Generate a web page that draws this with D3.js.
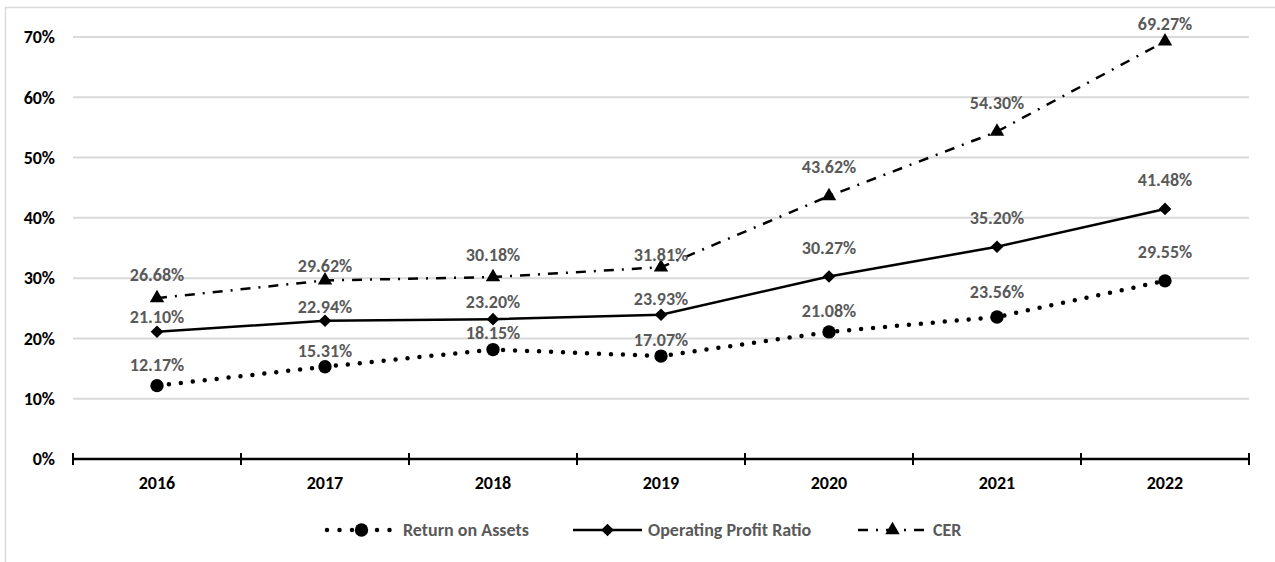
<!DOCTYPE html>
<html>
<head>
<meta charset="utf-8">
<script src="https://cdn.jsdelivr.net/npm/d3@7"></script>
<style>
  html, body { margin: 0; padding: 0; background: #fff; }
  svg { display: block; font-family: Carlito, Lato, "Open Sans", sans-serif; }
</style>
</head>
<body>
<svg id="chart" width="1275" height="562"></svg>
<script>
// Yearly ratios, in percent
const years = ["2016", "2017", "2018", "2019", "2020", "2021", "2022"];
const returnOnAssets = [12.17, 15.31, 18.15, 17.07, 21.08, 23.56, 29.55];
const operatingProfitRatio = [21.10, 22.94, 23.20, 23.93, 30.27, 35.20, 41.48];
const cer = [26.68, 29.62, 30.18, 31.81, 43.62, 54.30, 69.27];
const yTicks = [0, 10, 20, 30, 40, 50, 60, 70];

const seriesNames = ["Return on Assets", "Operating Profit Ratio", "CER"];

// gap between each point and the baseline of its value label (px)
const roaLabelGap = [15, 10, 11, 10, 15, 19, 23];
const oprLabelGap = [9, 8, 11, 10, 23, 23, 23];
const cerLabelGap = [17, 8, 16, 6, 23, 23, 11];

const FONT = "Carlito, Lato, 'Open Sans', sans-serif";
const svg = d3.select("#chart");

// outer frame
svg.append("rect")
  .attr("x", 5.5).attr("y", 7.5)
  .attr("width", 1400).attr("height", 700)
  .attr("fill", "none").attr("stroke", "#d9d9d9").attr("stroke-width", 1.5);

const plotLeft = 73, plotRight = 1249, plotTop = 37, plotBottom = 459;

const x = d3.scaleBand().domain(years).range([plotLeft, plotRight]);
const y = d3.scaleLinear().domain([0, 70]).range([plotBottom, plotTop]);
const cx = d => x(d) + x.bandwidth() / 2;

// horizontal gridlines
svg.append("g")
  .selectAll("line")
  .data(yTicks.filter(d => d > 0))
  .join("line")
  .attr("x1", plotLeft).attr("x2", plotRight)
  .attr("y1", d => y(d)).attr("y2", d => y(d))
  .attr("stroke", "#d9d9d9").attr("stroke-width", 2);

// y axis labels
const yAxis = svg.append("g")
  .attr("transform", `translate(${plotLeft},0)`)
  .call(d3.axisLeft(y).tickValues(yTicks).tickFormat(d => d + "%").tickSize(0).tickPadding(18));
yAxis.select(".domain").remove();
yAxis.selectAll("text")
  .attr("font-size", 18).attr("font-weight", "bold").attr("fill", "#000")
  .attr("font-family", FONT);

// x axis with crossing tick marks at category boundaries
const xg = svg.append("g").attr("transform", `translate(0,${plotBottom})`);
xg.append("line")
  .attr("x1", plotLeft).attr("x2", plotRight)
  .attr("stroke", "#000").attr("stroke-width", 2.5);
const boundaries = years.map(d => x(d)).concat([x(years[years.length - 1]) + x.bandwidth()]);
xg.selectAll("line.tick")
  .data(boundaries)
  .join("line")
  .attr("class", "tick")
  .attr("x1", d => d).attr("x2", d => d)
  .attr("y1", -6).attr("y2", 6)
  .attr("stroke", "#000").attr("stroke-width", 2);
xg.selectAll("text")
  .data(years)
  .join("text")
  .attr("x", d => cx(d))
  .attr("y", 30)
  .attr("text-anchor", "middle")
  .attr("font-size", 18).attr("font-weight", "bold").attr("fill", "#000")
  .text(d => d);

const symbolFor = {
  circle: d3.symbol().type(d3.symbolCircle).size(140),
  diamond: d3.symbol().type(d3.symbolSquare).size(80),
  triangle: d3.symbol().type(d3.symbolTriangle).size(90)
};
const rotateFor = { circle: 0, diamond: 45, triangle: 0 };

const styles = [
  { values: returnOnAssets, gaps: roaLabelGap, width: 4.5, dash: "0 12", legendDash: "0 12.5", cap: "round", marker: "circle" },
  { values: operatingProfitRatio, gaps: oprLabelGap, width: 2.5, dash: null, legendDash: null, cap: "butt", marker: "diamond" },
  { values: cer, gaps: cerLabelGap, width: 2.5, dash: "10 8 2 8", legendDash: "10 8 2 8", cap: "butt", marker: "triangle" }
];

const line = d3.line().x((d, i) => cx(years[i])).y(d => y(d));

styles.forEach(s => {
  svg.append("path")
    .datum(s.values)
    .attr("d", line)
    .attr("fill", "none")
    .attr("stroke", "#000")
    .attr("stroke-width", s.width)
    .attr("stroke-linecap", s.cap)
    .attr("stroke-dasharray", s.dash);

  svg.append("g")
    .selectAll("path")
    .data(s.values)
    .join("path")
    .attr("transform", (d, i) => `translate(${cx(years[i])},${y(d)}) rotate(${rotateFor[s.marker]})`)
    .attr("d", symbolFor[s.marker])
    .attr("fill", "#000");
});

// value labels on top of all lines
styles.forEach(s => {
  svg.append("g")
    .selectAll("text")
    .data(s.values)
    .join("text")
    .attr("x", (d, i) => cx(years[i]))
    .attr("y", (d, i) => y(d) - s.gaps[i])
    .attr("text-anchor", "middle")
    .attr("font-size", 18).attr("font-weight", "bold").attr("fill", "#595959")
    .text(d => d.toFixed(2) + "%");
});

// legend
const legendItems = [
  { name: seriesNames[0], x0: 327, x1: 396, s: styles[0], tx: 403 },
  { name: seriesNames[1], x0: 573, x1: 642, s: styles[1], tx: 648 },
  { name: seriesNames[2], x0: 858, x1: 927, s: styles[2], tx: 933 }
];
const ly = 530;
const lg = svg.append("g");
legendItems.forEach(it => {
  lg.append("line")
    .attr("x1", it.x0).attr("x2", it.x1)
    .attr("y1", ly).attr("y2", ly)
    .attr("stroke", "#000")
    .attr("stroke-width", it.s.width)
    .attr("stroke-linecap", it.s.cap)
    .attr("stroke-dasharray", it.s.legendDash);
  lg.append("path")
    .attr("transform", `translate(${(it.x0 + it.x1) / 2},${ly}) rotate(${rotateFor[it.s.marker]})`)
    .attr("d", symbolFor[it.s.marker])
    .attr("fill", "#000");
  lg.append("text")
    .attr("x", it.tx).attr("y", ly + 6)
    .attr("font-size", 18).attr("font-weight", "bold").attr("fill", "#595959")
    .text(it.name);
});
</script>
</body>
</html>
